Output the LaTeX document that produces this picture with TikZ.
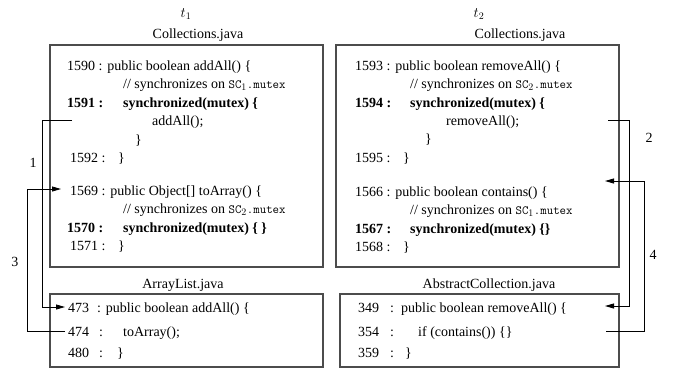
\documentclass[tikz,border=0pt]{standalone}
\usepackage{fontspec}
\setmainfont{Liberation Serif}
\usetikzlibrary{arrows.meta}
\newcommand\codett[1]{{\fontsize{12.5}{15}\ttfamily #1}}
\newcommand\syncon[1]{// synchronizes on \codett{SC}$_{#1}$\codett{.mutex}}
\tikzset{
  codeline/.style={anchor=base west, inner sep=0pt, font=\fontsize{14}{17}\selectfont},
  boldline/.style={codeline, font=\fontsize{14}{17}\selectfont\bfseries},
  title/.style={anchor=base, inner sep=0pt, font=\fontsize{14}{17}\selectfont},
  frame/.style={draw=black!70, line width=1.15pt},
  flow/.style={line width=0.8pt, -{Triangle[length=9pt,width=5pt]}},
  steplabel/.style={inner sep=0pt, font=\fontsize{14}{17}\selectfont}
}
\begin{document}
\begin{tikzpicture}[x=1pt, y=-1pt]
\useasboundingbox (0,0) rectangle (673,368);

% ---- frames ----
\draw[frame] (50,45) rectangle (323,267);
\draw[frame] (50,294) rectangle (323,367);
\draw[frame] (336,45) rectangle (619,267);
\draw[frame] (340,294) rectangle (619,367);

% ---- headings ----
\node[title] (t1) at (186,17) {$t_1$};
\node[title] (t2) at (479,17) {$t_2$};
\node[title] (f1) at (198,38) {Collections.java};
\node[title] (f2) at (520,38) {Collections.java};
\node[title] (f3) at (183,288) {ArrayList.java};
\node[title] (f4) at (489,288) {AbstractCollection.java};

% ---- thread t1: Collections.java ----
\node[codeline] (l1590) at (67,70) {1590 : public boolean addAll() \{};
\node[codeline] (c1590) at (123,88) {\syncon{1}};
\node[boldline] (l1591) at (67,107) {1591 :};
\node[boldline] (s1591) at (123,107) {synchronized(mutex) \{};
\node[codeline] (call1) at (152,125) {addAll();};
\node[codeline] (b1591) at (135,144) {\}};
\node[codeline] (l1592) at (70,162) {1592 :};
\node[codeline] (b1592) at (118,162) {\}};
\node[codeline] (l1569) at (70,195) {1569 : public Object[] toArray() \{};
\node[codeline] (c1569) at (123,213) {\syncon{2}};
\node[boldline] (l1570) at (67,232) {1570 :};
\node[boldline] (s1570) at (123,232) {synchronized(mutex) \{ \}};
\node[codeline] (l1571) at (70,250) {1571 :};
\node[codeline] (b1571) at (118,250) {\}};

% ---- thread t1: ArrayList.java ----
\node[codeline] (l473) at (68,312) {473};
\node[codeline] (d473) at (97,312) {: public boolean addAll() \{};
\node[codeline] (l474) at (68,336) {474};
\node[codeline] (d474) at (99,336) {:};
\node[codeline] (call3) at (123,336) {toArray();};
\node[codeline] (l480) at (68,357) {480};
\node[codeline] (d480) at (99,357) {:};
\node[codeline] (b480) at (117,357) {\}};

% ---- thread t2: Collections.java ----
\node[codeline] (l1593) at (355,70) {1593 : public boolean removeAll() \{};
\node[codeline] (c1593) at (410,88) {\syncon{2}};
\node[boldline] (l1594) at (355,107) {1594 :};
\node[boldline] (s1594) at (410,107) {synchronized(mutex) \{};
\node[codeline] (call2) at (446,125) {removeAll();};
\node[codeline] (b1594) at (425,143) {\}};
\node[codeline] (l1595) at (355,162) {1595 :};
\node[codeline] (b1595) at (403,162) {\}};
\node[codeline] (l1566) at (355,196) {1566 : public boolean contains() \{};
\node[codeline] (c1566) at (410,214) {\syncon{1}};
\node[boldline] (l1567) at (355,233) {1567 :};
\node[boldline] (s1567) at (410,233) {synchronized(mutex) \{\}};
\node[codeline] (l1568) at (355,251) {1568 :};
\node[codeline] (b1568) at (403,251) {\}};

% ---- thread t2: AbstractCollection.java ----
\node[codeline] (l349) at (358,312) {349};
\node[codeline] (d349) at (390,312) {:};
\node[codeline] (s349) at (401,312) {public boolean removeAll() \{};
\node[codeline] (l354) at (358,336) {354};
\node[codeline] (d354) at (390,336) {:};
\node[codeline] (call4) at (418,336) {if (contains()) \{\}};
\node[codeline] (l359) at (358,357) {359};
\node[codeline] (d359) at (390,357) {:};
\node[codeline] (b359) at (405,357) {\}};

% ---- connector ends ----
\coordinate (a1s) at (72,120);
\coordinate (a1e) at (65,307);
\coordinate (a3s) at (65,331);
\coordinate (a3e) at (61,189);
\coordinate (a2s) at (608,120);
\coordinate (a2e) at (605,306);
\coordinate (a4s) at (606,331);
\coordinate (a4e) at (605,181);

% ---- call flow ----
\draw[flow] (a1s) -- ++(-30,0) |- (a1e);
\draw[flow] (a3s) -- ++(-38,0) |- (a3e);
\draw[flow] (a2s) -- ++(21,0) |- (a2e);
\draw[flow] (a4s) -- ++(38,0) |- (a4e);

\node[steplabel] (n1) at (33,163) {1};
\node[steplabel] (n3) at (15,262) {3};
\node[steplabel] (n2) at (649,138) {2};
\node[steplabel] (n4) at (653,255) {4};
\end{tikzpicture}
\end{document}
